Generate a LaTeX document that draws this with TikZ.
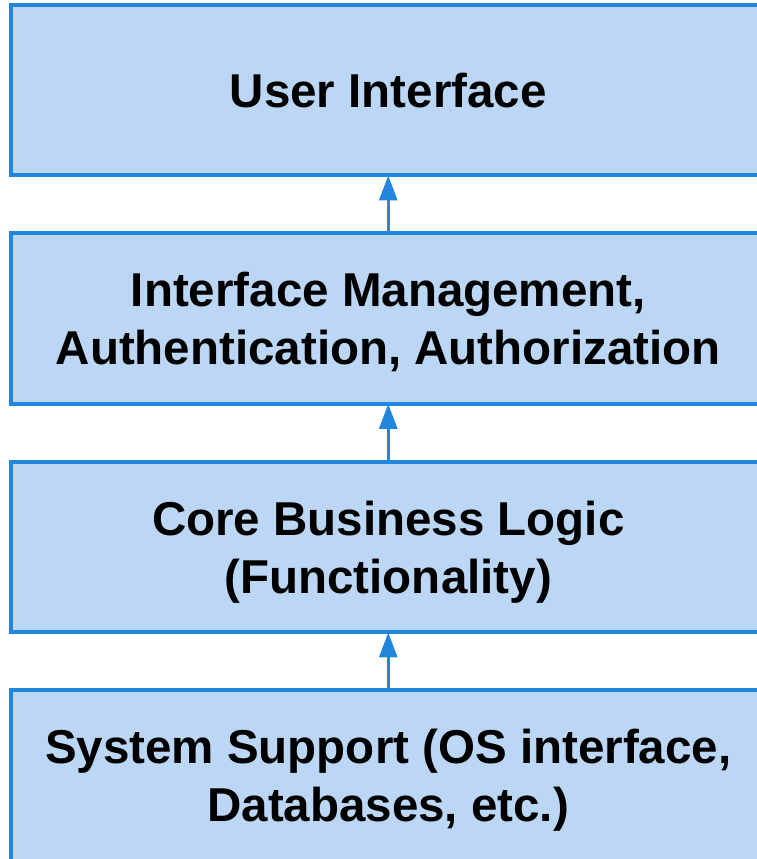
\documentclass[tikz,border=0pt]{standalone}
\usepackage{fontspec}
\setmainfont{Liberation Sans}
\usepackage{xcolor}
\usetikzlibrary{positioning,arrows.meta}

\definecolor{layerfill}{RGB}{187,215,245}
\definecolor{layerline}{RGB}{35,134,222}

\begin{document}
\begin{tikzpicture}[x=1pt, y=1pt,
    layer/.style={draw=layerline, fill=layerfill, line width=4pt,
      minimum width=755.5pt, minimum height=170.5pt, outer sep=0pt,
      text depth=0pt, align=center,
      font=\fontsize{47.5}{58}\selectfont\bfseries},
    uparrow/.style={draw=layerline, line width=3pt,
      -{Triangle[width=18pt,length=25pt]}}]
  % Fix the page and cut the boxes at its edges
  \useasboundingbox (0,0) rectangle (757,859);
  \clip (0,0) rectangle (757,859);

  % Layers, bottom to top
  \node[layer] (sys) at (388.25,83.25) {System Support (OS interface,\\Databases, etc.)};
  \node[layer, above=58pt of sys] (core) {Core Business Logic\\(Functionality)};
  \node[layer, above=58pt of core] (auth) {Interface Management,\\Authentication, Authorization};
  \node[layer, above=58pt of auth] (ui) {User Interface};

  % Arrows between layers
  \draw[uparrow] (sys) -- (core);
  \draw[uparrow] (core) -- (auth);
  \draw[uparrow] (auth) -- (ui);
\end{tikzpicture}
\end{document}
